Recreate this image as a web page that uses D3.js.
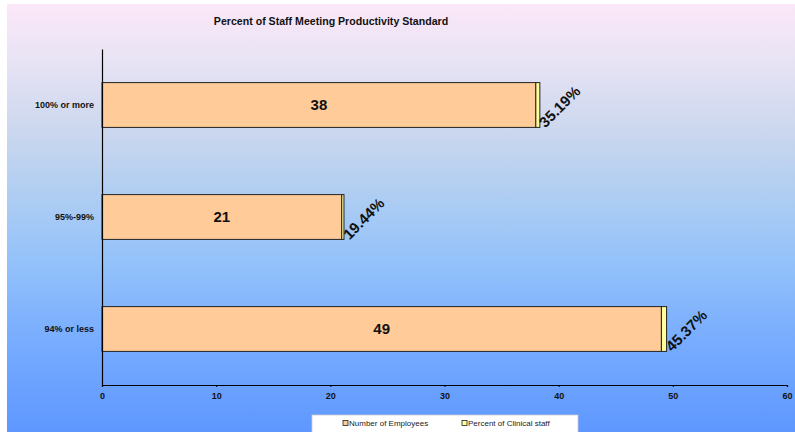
<!DOCTYPE html>
<html>
<head>
<meta charset="utf-8">
<script src="https://cdn.jsdelivr.net/npm/d3@7"></script>
<style>
  html, body { margin: 0; padding: 0; background: #fff; }
  svg { display: block; font-family: "Liberation Sans", Arial, sans-serif; }
</style>
</head>
<body>
<svg id="chart" width="795" height="432"></svg>
<script>
// Chart data
const categories = ["100% or more", "95%-99%", "94% or less"];
const employees = [38, 21, 49];
const clinicalShare = [0.3519, 0.1944, 0.4537];
const xTicks = [0, 10, 20, 30, 40, 50, 60];
const seriesNames = ["Number of Employees", "Percent of Clinical staff"];
const seriesColors = ["#FFCC99", "#FFFF99"];

const svg = d3.select("#chart");
const W = 795, H = 432;

// Background gradient panel
const defs = svg.append("defs");
const grad = defs.append("linearGradient")
  .attr("id", "bg").attr("x1", 0).attr("y1", 0).attr("x2", 0).attr("y2", 1);
[[0, "#FBE7F8"], [0.12, "#EAE4F5"], [0.3, "#CBD7EE"], [0.45, "#AECDF2"],
 [0.6, "#94C2FA"], [0.8, "#76ABFF"], [1, "#5E97FF"]]
  .forEach(([o, c]) => grad.append("stop").attr("offset", o).attr("stop-color", c));

svg.append("rect").attr("x", 7).attr("y", 4).attr("width", W - 7).attr("height", H - 4)
  .attr("fill", "url(#bg)");

// Title
svg.append("text")
  .attr("x", 331).attr("y", 25)
  .attr("text-anchor", "middle")
  .attr("font-size", 10.6).attr("font-weight", "bold")
  .attr("fill", "#111")
  .text("Percent of Staff Meeting Productivity Standard");

// Scales
const x = d3.scaleLinear().domain([0, 60]).range([102, 787]);
const y = d3.scaleBand().domain(categories).range([49, 385])
  .paddingInner(0.6).paddingOuter(0.3);

// Stacked series
const rows = categories.map((c, i) => ({ cat: c, emp: employees[i], pct: clinicalShare[i] }));
const stack = d3.stack().keys(["emp", "pct"]);
const layers = stack(rows);

const g = svg.append("g");
layers.forEach((layer, li) => {
  g.selectAll(null).data(layer).enter().append("rect")
    .attr("x", d => x(d[0]))
    .attr("y", d => y(d.data.cat))
    .attr("width", d => x(d[1]) - x(d[0]))
    .attr("height", y.bandwidth())
    .attr("fill", seriesColors[li])
    .attr("stroke", "#222")
    .attr("stroke-width", 1);
});

// Employee count labels
g.selectAll(null).data(rows).enter().append("text")
  .attr("x", d => (x(0) + x(d.emp)) / 2)
  .attr("y", d => y(d.cat) + y.bandwidth() / 2 + 5)
  .attr("text-anchor", "middle")
  .attr("font-size", 15).attr("font-weight", "bold")
  .attr("fill", "#111")
  .text(d => d.emp);

// Clinical share labels, rotated at bar ends
g.selectAll(null).data(rows).enter().append("text")
  .attr("transform", d => `translate(${x(d.emp + d.pct) + 5.5},${y(d.cat) + y.bandwidth() + 1}) rotate(-45)`)
  .attr("font-size", 15).attr("font-weight", "bold")
  .attr("fill", "#111")
  .text(d => (d.pct * 100).toFixed(2) + "%");

// Axes
const xAxis = d3.axisBottom(x).tickValues(xTicks).tickSize(2).tickFormat(d3.format("d"));
const xg = svg.append("g").attr("transform", "translate(0,385)").call(xAxis);
xg.select(".domain").attr("stroke", "#000").attr("stroke-width", 1.2);
xg.selectAll(".tick line").attr("stroke", "#000");
xg.selectAll(".tick text").attr("font-size", 9).attr("font-weight", "bold")
  .attr("fill", "#111").attr("font-family", "Liberation Sans, Arial, sans-serif").attr("dy", "1.05em");

const yAxis = d3.axisLeft(y).tickSize(0).tickPadding(8);
const yg = svg.append("g").attr("transform", "translate(102,0)").call(yAxis);
yg.select(".domain").attr("stroke", "#000").attr("stroke-width", 1.2);
yg.selectAll(".tick text").attr("font-size", 9).attr("font-weight", "bold")
  .attr("fill", "#111").attr("font-family", "Liberation Sans, Arial, sans-serif");

// Legend
const lg = svg.append("g");
lg.append("rect").attr("x", 312).attr("y", 415).attr("width", 266).attr("height", 20)
  .attr("fill", "#fff").attr("stroke", "#ccc").attr("stroke-width", 0.8);
const legendX = [343, 462];
seriesNames.forEach((name, i) => {
  lg.append("rect").attr("x", legendX[i]).attr("y", 420.5).attr("width", 5).attr("height", 5)
    .attr("fill", seriesColors[i]).attr("stroke", "#222").attr("stroke-width", 0.8);
  lg.append("text").attr("x", legendX[i] + 6).attr("y", 426)
    .attr("font-size", 8).attr("fill", "#222").text(name);
});
</script>
</body>
</html>
